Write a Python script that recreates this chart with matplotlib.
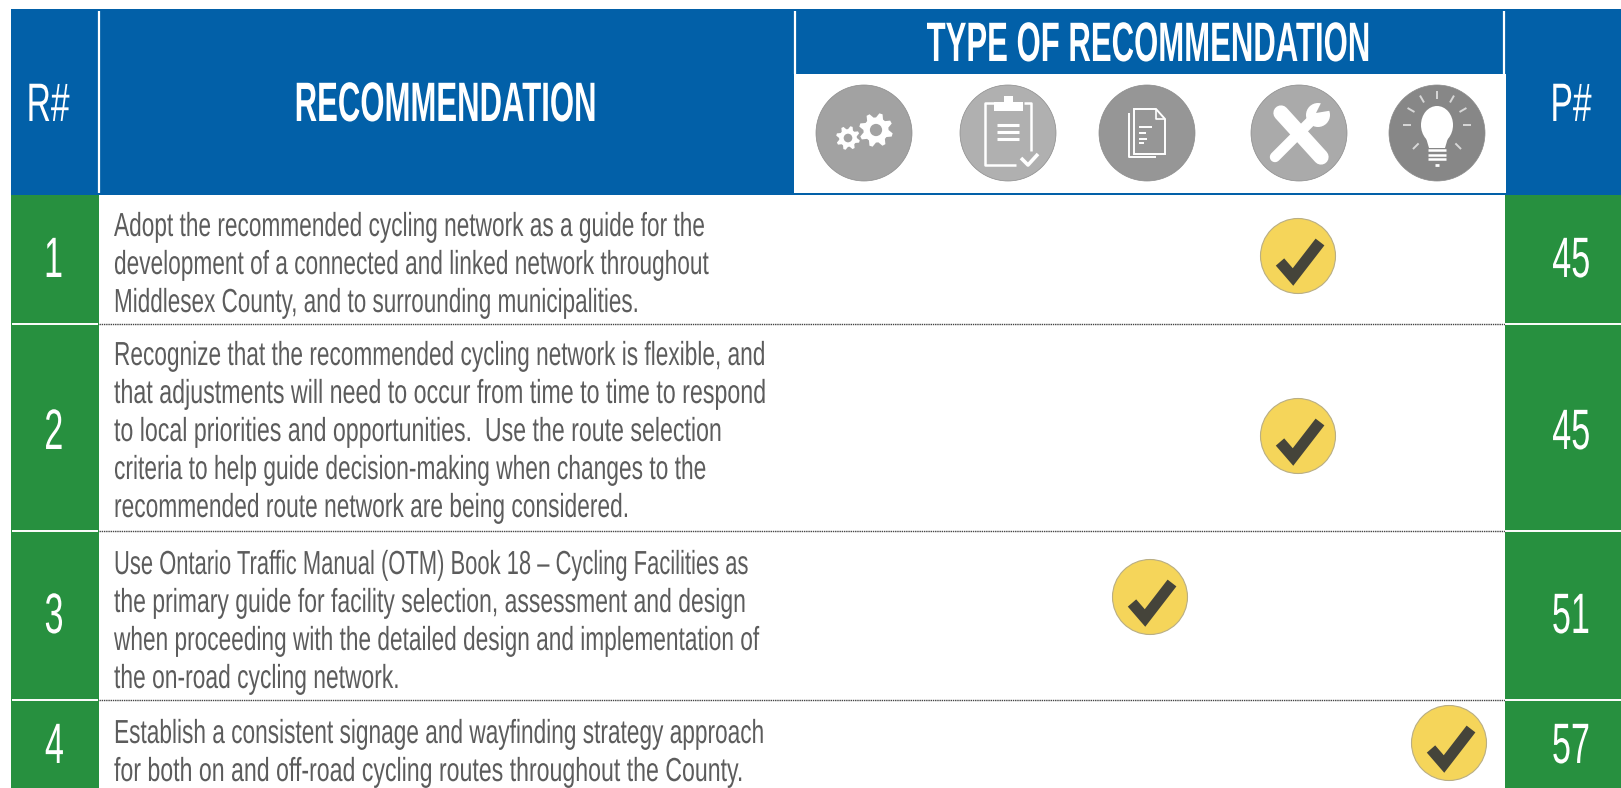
import numpy as np
from matplotlib import pyplot as plt
from matplotlib.patches import Circle, Ellipse, Polygon, Rectangle
from matplotlib.patheffects import AbstractPathEffect
from matplotlib.transforms import Affine2D

row_numbers = ['1', '2', '3', '4']
page_numbers = ['45', '45', '51', '57']
row_lines = [
    ['Adopt the recommended cycling network as a guide for the',
     'development of a connected and linked network throughout',
     'Middlesex County, and to surrounding municipalities.'],
    ['Recognize that the recommended cycling network is flexible, and',
     'that adjustments will need to occur from time to time to respond',
     'to local priorities and opportunities.  Use the route selection',
     'criteria to help guide decision-making when changes to the',
     'recommended route network are being considered.'],
    ['Use Ontario Traffic Manual (OTM) Book 18 \u2013 Cycling Facilities as',
     'the primary guide for facility selection, assessment and design',
     'when proceeding with the detailed design and implementation of',
     'the on-road cycling network.'],
    ['Establish a consistent signage and wayfinding strategy approach',
     'for both on and off-road cycling routes throughout the County.'],
]
# which icon column each row is ticked in (0..4)
row_type = [3, 3, 2, 4]

BLUE = '#0260a8'
GREEN = '#27903f'
TEXT = '#5c5c5c'

row_edges = [195, 324, 531, 700, 788]
first_baseline = [236, 365, 574, 743]
# per line squeeze so the line ends land where they do in the original
line_sx = [
    [0.68, 0.68, 0.675],
    [0.68, 0.697, 0.695, 0.683, 0.683],
    [0.659, 0.689, 0.68, 0.685],
    [0.68, 0.694],
]
number_y = [262, 434, 618, 748]
check_x_shift = [-1, -1, 3, 12]
check_y = [256, 436, 597, 743]
icon_x = [864, 1008, 1147, 1299, 1437]
icon_grey = ['#a2a2a2', '#b0b0b0', '#969696', '#aaaaaa', '#878787']


class Squeeze(AbstractPathEffect):
    # no narrow display font here, so squeeze the glyphs sideways at draw time
    def __init__(self, sx, center=False):
        super().__init__()
        self.sx = sx
        self.center = center

    def draw_path(self, renderer, gc, tpath, affine, rgbFace=None):
        m = affine.get_matrix().copy()
        width = tpath.get_extents().width * m[0, 0]
        m[0, 0] *= self.sx
        if self.center:
            m[0, 2] += width * (1 - self.sx) / 2
        renderer.draw_path(gc, tpath, Affine2D(m), rgbFace)


fig = plt.figure(figsize=(16.21, 7.88), dpi=100)
ax = fig.add_axes([0, 0, 1, 1])
ax.set_xlim(0, 1621)
ax.set_ylim(788, 0)
ax.axis('off')


def label(x, y, s, size, sx, color='white', weight='normal', ha='center', va='center'):
    ax.text(x, y, s, fontsize=size, color=color, fontweight=weight, ha=ha, va=va,
            family=['Liberation Sans', 'DejaVu Sans'],
            path_effects=[Squeeze(sx, center=ha == 'center')])


def rect(x0, y0, x1, y1, color, z=1):
    ax.add_patch(Rectangle((x0, y0), x1 - x0, y1 - y0, fc=color, ec='none', zorder=z))


def white(xs, ys, lw=2.0, cap='butt', color='white'):
    ax.plot(xs, ys, color=color, lw=lw, solid_capstyle=cap, zorder=4)


def gear(cx, cy, r, teeth=8):
    a = np.linspace(0, 2 * np.pi, teeth * 4, endpoint=False) + 0.2
    rr = np.tile([r, r, r * 0.74, r * 0.74], teeth)
    ax.add_patch(Polygon(np.c_[cx + rr * np.cos(a), cy + rr * np.sin(a)], fc='white', ec='none', zorder=4))
    ax.add_patch(Circle((cx, cy), r * 0.36, fc=icon_grey[0], ec='none', zorder=5))


def draw_icons():
    cy = 133
    for x, c in zip(icon_x, icon_grey):
        ax.add_patch(Ellipse((x, cy), 96, 96, fc=c, ec='#8c8c8c', lw=0.5, zorder=3))

    # gears
    x = icon_x[0]
    gear(x - 16, cy + 5, 12)
    gear(x + 12, cy - 3, 17)

    # clipboard
    x = icon_x[1]
    white([x + 23, x + 23, x + 16], [cy + 18, cy - 30, cy - 30], 1.8)
    white([x - 8, x - 23, x - 23, x + 8], [cy - 30, cy - 30, cy + 32, cy + 32], 1.8)
    rect(x - 14, cy - 31, x + 15, cy - 22, 'white', 4)
    rect(x - 4, cy - 37, x + 5, cy - 30, 'white', 4)
    for dy in [-8, -1, 6]:
        white([x - 11, x + 11], [cy + dy, cy + dy], 2.2)
    white([x + 13, x + 20, x + 30], [cy + 25, cy + 32, cy + 21], 2.6)

    # document
    x = icon_x[2]
    white([x - 18, x - 18, x + 9], [cy - 20, cy + 24, cy + 24], 1.4)
    ax.add_patch(Polygon([[x - 13, cy - 24], [x + 9, cy - 24], [x + 18, cy - 14], [x + 18, cy + 21], [x - 13, cy + 21]],
                         fc='none', ec='white', lw=1.4, zorder=4))
    white([x + 9, x + 9, x + 18], [cy - 24, cy - 14, cy - 14], 1.2)
    for dy, w in zip([-6, 0, 6, 10], [13, 7, 8, 5]):
        white([x - 8, x - 8 + w], [cy + dy, cy + dy], 1.4)

    # tools
    x = icon_x[3]
    white([x - 18, x + 22], [cy - 20, cy + 24], 11, 'round')
    white([x - 24, x + 17], [cy + 24, cy - 17], 7.5, 'round')
    ax.add_patch(Circle((x + 19, cy - 18), 12, fc='white', ec='none', zorder=4))
    ax.add_patch(Polygon([[x + 17, cy - 20], [x + 24, cy - 34], [x + 35, cy - 23]], fc=icon_grey[3], ec='none', zorder=5))

    # bulb
    x = icon_x[4]
    ax.add_patch(Ellipse((x, cy - 8), 32, 38, fc='white', ec='none', zorder=4))
    ax.add_patch(Polygon([[x - 13, cy - 2], [x + 13, cy - 2], [x + 8, cy + 15], [x - 8, cy + 15]], fc='white', ec='none', zorder=4))
    for dy, w in zip([17, 22, 26], [9, 9, 9]):
        white([x - w, x + w], [cy + dy, cy + dy], 1.8)
    white([x - 2, x + 2], [cy + 32, cy + 32], 2.0)
    for a in np.radians([180, 210, 240, 270, 300, 330, 360, 135, 45]):
        white([x + 26 * np.cos(a), x + 34 * np.cos(a)],
              [cy - 8 + 26 * np.sin(a), cy - 8 + 34 * np.sin(a)], 1.4, color='#d8d8d8')


def draw_check(x, y):
    ax.add_patch(Circle((x, y), 37.5, fc='#f5d55a', ec='#b9ae84', lw=0.8, zorder=3))
    ax.plot([x - 18, x - 5, x + 22], [y + 6, y + 21, y - 14], color='#45443a', lw=8.0,
            solid_capstyle='butt', solid_joinstyle='miter', zorder=4)


# header
rect(11, 9, 1621, 195, BLUE)
rect(794, 74, 1506, 193, 'white', 2)
white([98.5, 98.5], [11, 193], 1.6)
white([794.5, 794.5], [11, 74], 1.6)
white([1504, 1504], [11, 74], 1.6)
label(49, 107, 'R#', 39, 0.62)
label(1572, 107, 'P#', 39, 0.62)
label(447, 107, 'RECOMMENDATION', 40, 0.56, weight='bold')
label(1149, 47, 'TYPE OF RECOMMENDATION', 40, 0.56, weight='bold')
draw_icons()

# body
rect(11, 195, 98.5, 788, GREEN)
rect(1505, 195, 1621, 788, GREEN)
for y in row_edges[1:-1]:
    white([12, 98], [y, y], 1.4)
    white([1505, 1621], [y, y], 1.4)
    ax.plot([99, 1505], [y, y], color='#444444', lw=1.0, ls=(0, (1, 0.6)), zorder=2)

for i in range(len(row_numbers)):
    label(55, number_y[i], row_numbers[i], 41, 0.6)
    label(1572, number_y[i], page_numbers[i], 41, 0.6)
    for j, line in enumerate(row_lines[i]):
        label(114, first_baseline[i] + 38 * j, line, 24, line_sx[i][j], color=TEXT, ha='left', va='baseline')
    draw_check(icon_x[row_type[i]] + check_x_shift[i], check_y[i])

plt.savefig('out.png', dpi=100)
